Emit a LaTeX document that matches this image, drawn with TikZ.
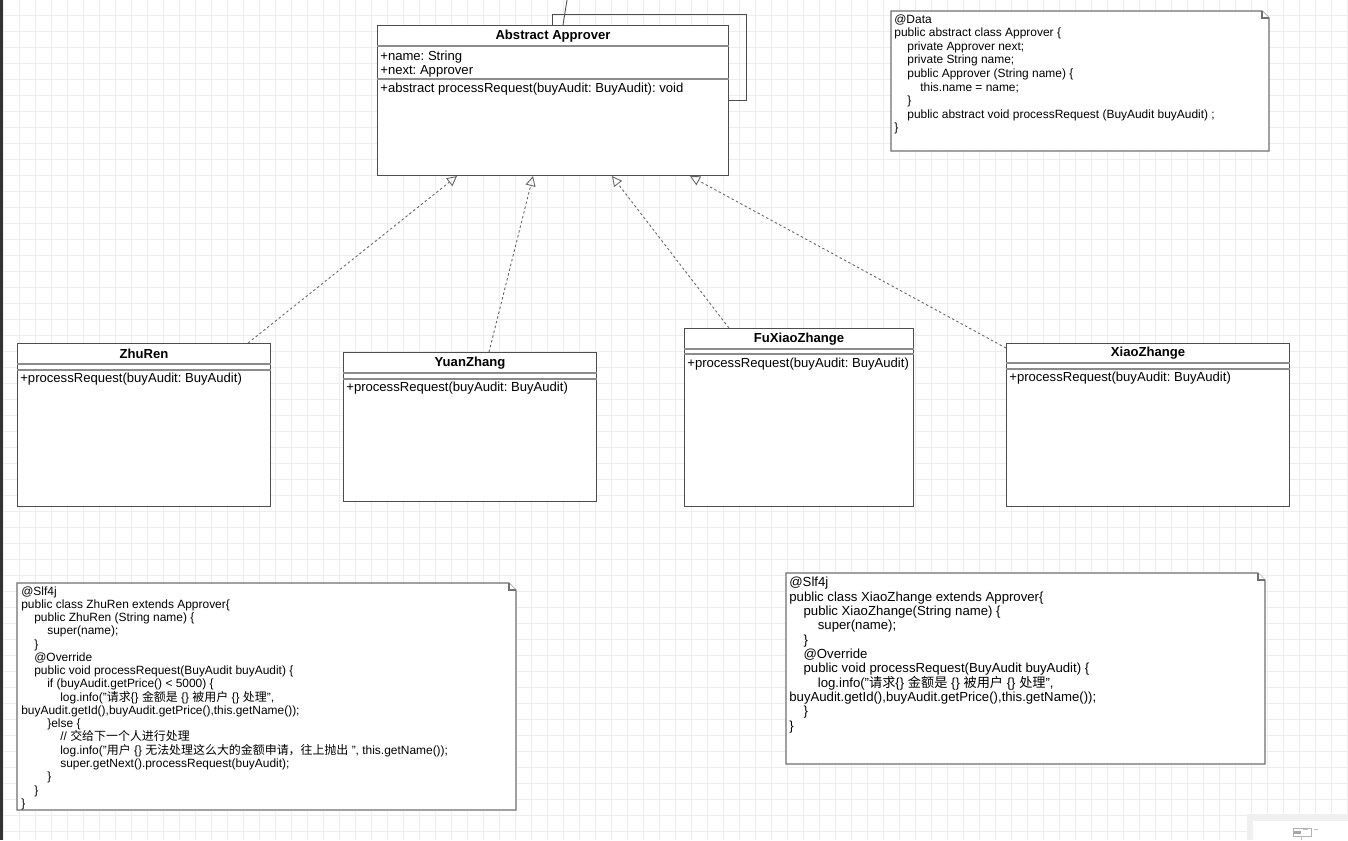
\documentclass[tikz,border=0pt]{standalone}
\usepackage{fontspec}
\setmainfont{Liberation Sans}
\newfontfamily\cjk{Noto Sans CJK SC}
\usepackage{tikz}
\usetikzlibrary{positioning}
\usetikzlibrary{calc}
\usetikzlibrary{arrows.meta}
\definecolor{gridgray}{HTML}{EDEDED}
\definecolor{linegray}{HTML}{4D4D4D}
\definecolor{sepgray}{HTML}{8C8C8C}
\definecolor{dashgray}{HTML}{666666}
\definecolor{notegray}{HTML}{707070}
\newlength\codetab
\setlength\codetab{0.26cm}
\newlength\codetabb
\setlength\codetabb{0.285cm}
\newcommand{\umlfont}{\fontsize{7.45pt}{7.7pt}\selectfont}
\newcommand{\codefont}{\fontsize{6.8pt}{7.55pt}\selectfont}
\newcommand{\bigcodefont}{\fontsize{7.5pt}{8.15pt}\selectfont}
\frenchspacing

\begin{document}
\begin{tikzpicture}[x=0.02cm,y=-0.02cm,
    classbox/.style={draw=linegray, fill=white, line width=0.6pt, anchor=north west, inner sep=0pt},
    classtitle/.style={font=\umlfont\bfseries, inner sep=0pt},
    member/.style={font=\umlfont, anchor=west, inner sep=0pt},
    sepline/.style={draw=sepgray, line width=0.6pt},
    realize/.style={draw=dashgray, line width=0.5pt, dash pattern=on 1.4pt off 1.4pt,
        -{Triangle[open,length=0.2cm,width=0.2cm]}},
    assoc/.style={draw=linegray, line width=0.5pt},
    notebox/.style={draw=notegray, fill=white, line width=0.6pt},
    notetext/.style={anchor=north west, inner sep=0pt, align=left}]
    \useasboundingbox (0,0) rectangle (1348,840);
    \fill[white] (0,0) rectangle (1348,840);
    % grid
    \foreach \x in {3,19,...,1347} \draw[gridgray, line width=0.4pt] (\x,0) -- (\x,840);
    \foreach \y in {15,31,...,839} \draw[gridgray, line width=0.4pt] (0,\y) -- (1348,\y);
    \fill[black!80] (0,0) rectangle (3,840);

    % abstract class
    \node[classbox, minimum width=7.02cm, minimum height=3cm] (approver) at (377,25) {};
    \node[classtitle] (approver-title) at ($(approver.north)+(0,11)$) {Abstract Approver};
    \draw[sepline] ($(approver.north west)+(0,21)$) -- ($(approver.north east)+(0,21)$);
    \node[notetext, font=\umlfont] (approver-attr) at ($(approver.north west)+(3,26)$) {+name: String\\+next: Approver};
    \draw[sepline] ($(approver.north west)+(0,54)$) -- ($(approver.north east)+(0,54)$);
    \node[member] (approver-op) at ($(approver.north west)+(3,64)$) {+abstract processRequest(buyAudit: BuyAudit): void};
    \draw[assoc] ($(approver.north west)+(175,0)$) -- ++(0,-11) -| ($(approver.north east)+(17,75)$) -- ($(approver.north east)+(0,75)$);
    \coordinate (offtop) at (567,0);
    \draw[assoc] ($(approver.north west)+(186,0)$) -- (offtop);

    % subclasses
    \node[classbox, minimum width=5.06cm, minimum height=3.26cm] (zhuren) at (17,343) {};
    \node[classtitle] (zhuren-title) at ($(zhuren.north)+(0,11)$) {ZhuRen};
    \draw[sepline] ($(zhuren.north west)+(0,21)$) -- ($(zhuren.north east)+(0,21)$);
    \draw[sepline] ($(zhuren.north west)+(0,27)$) -- ($(zhuren.north east)+(0,27)$);
    \node[member] (zhuren-op) at ($(zhuren.north west)+(3,36)$) {+processRequest(buyAudit: BuyAudit)};

    \node[classbox, minimum width=5.06cm, minimum height=2.98cm] (yuanzhang) at (343,352) {};
    \node[classtitle] (yuanzhang-title) at ($(yuanzhang.north)+(0,11)$) {YuanZhang};
    \draw[sepline] ($(yuanzhang.north west)+(0,21)$) -- ($(yuanzhang.north east)+(0,21)$);
    \draw[sepline] ($(yuanzhang.north west)+(0,27)$) -- ($(yuanzhang.north east)+(0,27)$);
    \node[member] (yuanzhang-op) at ($(yuanzhang.north west)+(3,36)$) {+processRequest(buyAudit: BuyAudit)};

    \node[classbox, minimum width=4.58cm, minimum height=3.56cm] (fuxiaozhange) at (684,328) {};
    \node[classtitle] (fuxiaozhange-title) at ($(fuxiaozhange.north)+(0,11)$) {FuXiaoZhange};
    \draw[sepline] ($(fuxiaozhange.north west)+(0,21)$) -- ($(fuxiaozhange.north east)+(0,21)$);
    \draw[sepline] ($(fuxiaozhange.north west)+(0,26)$) -- ($(fuxiaozhange.north east)+(0,26)$);
    \node[member] (fuxiaozhange-op) at ($(fuxiaozhange.north west)+(3,36)$) {+processRequest(buyAudit: BuyAudit)};

    \node[classbox, minimum width=5.66cm, minimum height=3.26cm] (xiaozhange) at (1006,343) {};
    \node[classtitle] (xiaozhange-title) at ($(xiaozhange.north)+(0,10)$) {XiaoZhange};
    \draw[sepline] ($(xiaozhange.north west)+(0,20)$) -- ($(xiaozhange.north east)+(0,20)$);
    \draw[sepline] ($(xiaozhange.north west)+(0,26)$) -- ($(xiaozhange.north east)+(0,26)$);
    \node[member] (xiaozhange-op) at ($(xiaozhange.north west)+(3,35)$) {+processRequest(buyAudit: BuyAudit)};

    % realizations
    \draw[realize] ($(zhuren.north east)+(-23,0)$) -- ($(approver.south west)+(80,0)$);
    \draw[realize] ($(yuanzhang.north west)+(146,0)$) -- ($(approver.south west)+(156,0)$);
    \draw[realize] ($(fuxiaozhange.north west)+(45,0)$) -- ($(approver.south west)+(235,0)$);
    \draw[realize] ($(xiaozhange.north west)+(0,5)$) -- ($(approver.south west)+(313,0)$);

    % notes
    \draw[notebox] (891,11) -- (1262,11) -- (1269,18) -- (1269,151) -- (891,151) -- cycle;
    \draw[notebox] (1262,11) -- (1262,18) -- (1269,18);
    \node[notetext, font=\fontsize{6.8pt}{7.75pt}\selectfont] (note-data) at (894,14) {@Data\\
        public abstract class Approver \{\\
        \hspace*{\codetab}private Approver next;\\
        \hspace*{\codetab}private String name;\\
        \hspace*{\codetab}public Approver (String name) \{\\
        \hspace*{2\codetab}this.name = name;\\
        \hspace*{\codetab}\}\\
        \hspace*{\codetab}public abstract void processRequest (BuyAudit buyAudit) ;\\
        \}};

    \draw[notebox] (17,583) -- (509,583) -- (516,590) -- (516,810) -- (17,810) -- cycle;
    \draw[notebox] (509,583) -- (509,590) -- (516,590);
    \node[notetext, font=\codefont] (note-zhuren) at (21,586) {@Slf4j\\
        public class ZhuRen extends Approver\{\\
        \hspace*{\codetab}public ZhuRen (String name) \{\\
        \hspace*{2\codetab}super(name);\\
        \hspace*{\codetab}\}\\
        \hspace*{\codetab}@Override\\
        \hspace*{\codetab}public void processRequest(BuyAudit buyAudit) \{\\
        \hspace*{2\codetab}if (buyAudit.getPrice() < 5000) \{\\
        \hspace*{3\codetab}log.info("{\cjk 请求}\{\} {\cjk 金额是} \{\} {\cjk 被用户} \{\} {\cjk 处理}",\\
        buyAudit.getId(),buyAudit.getPrice(),this.getName());\\
        \hspace*{2\codetab}\}else \{\\
        \hspace*{3\codetab}// {\cjk 交给下一个人进行处理}\\
        \hspace*{3\codetab}log.info("{\cjk 用户} \{\} {\cjk 无法处理这么大的金额申请，往上抛出} ", this.getName());\\
        \hspace*{3\codetab}super.getNext().processRequest(buyAudit);\\
        \hspace*{2\codetab}\}\\
        \hspace*{\codetab}\}\\
        \}};

    \draw[notebox] (786,573) -- (1258,573) -- (1265,580) -- (1265,764) -- (786,764) -- cycle;
    \draw[notebox] (1258,573) -- (1258,580) -- (1265,580);
    \node[notetext, font=\bigcodefont] (note-xiaozhange) at (789,577) {@Slf4j\\
        public class XiaoZhange extends Approver\{\\
        \hspace*{\codetabb}public XiaoZhange(String name) \{\\
        \hspace*{2\codetabb}super(name);\\
        \hspace*{\codetabb}\}\\
        \hspace*{\codetabb}@Override\\
        \hspace*{\codetabb}public void processRequest(BuyAudit buyAudit) \{\\
        \hspace*{2\codetabb}log.info("{\cjk 请求}\{\} {\cjk 金额是} \{\} {\cjk 被用户} \{\} {\cjk 处理}",\\
        buyAudit.getId(),buyAudit.getPrice(),this.getName());\\
        \hspace*{\codetabb}\}\\
        \}};

    % minimap
    \fill[gray!12] (1247,814) rectangle (1348,840);
    \fill[white] (1253,821) rectangle (1348,840);
    \draw[gray!60, fill=white, line width=0.4pt] (1293,828) rectangle (1311,836);
    \fill[gray!70] (1294,831) rectangle (1301,834);
    \fill[gray!50] (1303,829) rectangle (1308,830);
    \draw[gray!50, line width=0.4pt] (1314,829) -- (1318,829);
    \draw[gray!50, line width=0.4pt] (1301,836) -- (1301,840);
\end{tikzpicture}
\end{document}
